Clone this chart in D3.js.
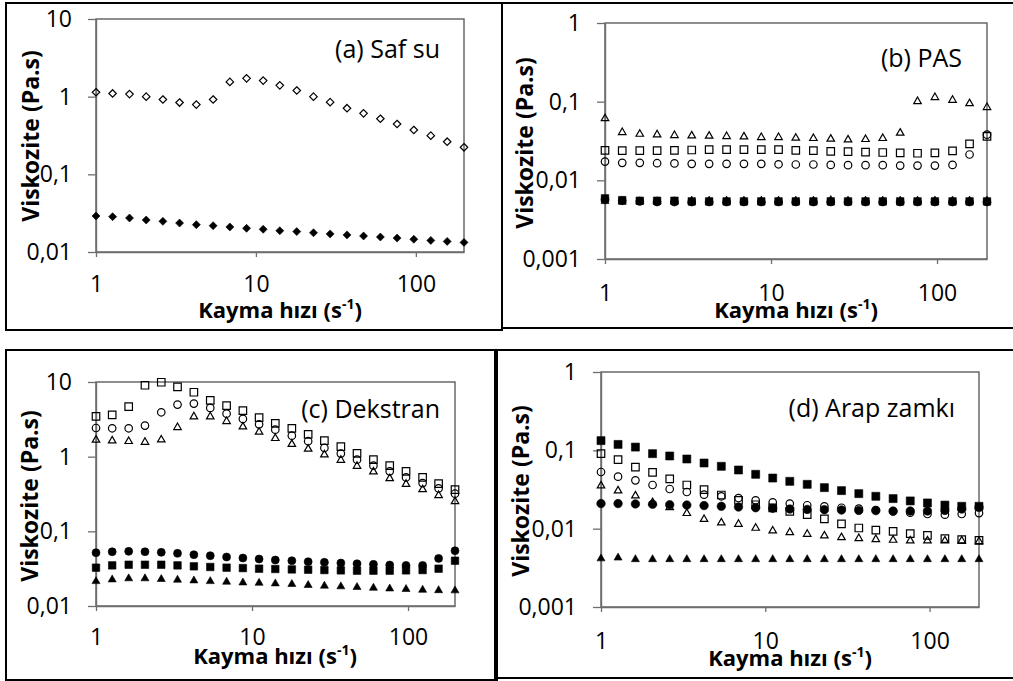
<!DOCTYPE html>
<html>
<head>
<meta charset="utf-8">
<script src="https://cdn.jsdelivr.net/npm/d3@7"></script>
<style>
  html, body { margin: 0; padding: 0; background: #fff; }
  svg { display: block; }
  text { font-family: "Open Sans", "Liberation Sans", sans-serif; fill: #000; }
</style>
</head>
<body>
<svg id="fig" width="1013" height="681"></svg>
<script>
// Shear rates (s^-1) shared by every panel
const shearRate = [1, 1.27, 1.62, 2.06, 2.62, 3.33, 4.24, 5.4, 6.87, 8.74, 11.1, 14.1, 18, 22.9, 29.1, 37.1, 47.1, 60, 76.3, 97.1, 124, 157, 200];

const xTickValues = [1, 10, 100];
const xTickLabels = ["1", "10", "100"];

const yTicksAC = [0.01, 0.1, 1, 10];
const yTickLabelsAC = ["0,01", "0,1", "1", "10"];
const yTicksBD = [0.001, 0.01, 0.1, 1];
const yTickLabelsBD = ["0,001", "0,01", "0,1", "1"];

// (a) Saf su
const safSuOpen = [1.14, 1.10, 1.08, 1.0, 0.92, 0.84, 0.79, 0.92, 1.55, 1.72, 1.61, 1.40, 1.20, 1.0, 0.85, 0.71, 0.61, 0.52, 0.445, 0.372, 0.315, 0.263, 0.223];
const safSuFilled = [0.0291, 0.0285, 0.0274, 0.0258, 0.0248, 0.0236, 0.0225, 0.0218, 0.0210, 0.0202, 0.0196, 0.0188, 0.0183, 0.0177, 0.0171, 0.0166, 0.0161, 0.0156, 0.0151, 0.0146, 0.0141, 0.0137, 0.0133];

// (b) PAS
const pasFilledSq = [0.0059, 0.0056, 0.0055, 0.0055, 0.0055, 0.0054, 0.0054, 0.0054, 0.0054, 0.0054, 0.0054, 0.0054, 0.0054, 0.0054, 0.0054, 0.0054, 0.0054, 0.0054, 0.0054, 0.0054, 0.0054, 0.0054, 0.0054];
const pasFilledCirc = [0.0057, 0.0055, 0.0054, 0.0053, 0.0053, 0.0053, 0.0053, 0.0053, 0.0053, 0.0053, 0.0053, 0.0053, 0.0053, 0.0053, 0.0053, 0.0053, 0.0053, 0.0053, 0.0053, 0.0053, 0.0053, 0.0053, 0.0053];
const pasFilledTri = [0.0056, 0.0055, 0.0056, 0.0056, 0.0056, 0.0057, 0.0057, 0.0057, 0.0057, 0.0057, 0.0057, 0.0057, 0.0057, 0.0058, 0.0057, 0.0057, 0.0057, 0.0057, 0.0057, 0.0057, 0.0057, 0.0057, 0.0057];
const pasOpenSq = [0.0241, 0.0239, 0.0239, 0.0239, 0.0241, 0.0243, 0.0246, 0.0246, 0.0246, 0.0246, 0.0246, 0.0241, 0.0239, 0.0234, 0.0232, 0.0228, 0.0226, 0.0223, 0.0221, 0.0223, 0.0237, 0.029, 0.0363];
const pasOpenCirc = [0.0173, 0.0167, 0.0167, 0.0165, 0.0164, 0.0162, 0.0162, 0.0162, 0.0162, 0.0162, 0.016, 0.0159, 0.0159, 0.0157, 0.0156, 0.0156, 0.0156, 0.0154, 0.0154, 0.0154, 0.0157, 0.0213, 0.0381];
const pasOpenTri = [0.063, 0.042, 0.040, 0.0393, 0.0385, 0.0381, 0.0378, 0.0374, 0.037, 0.0363, 0.0363, 0.0356, 0.0353, 0.0346, 0.0339, 0.0343, 0.0353, 0.0413, 0.104, 0.117, 0.108, 0.098, 0.0873];

// (c) Dekstran
const dekFilledSq = [0.0326, 0.035, 0.0357, 0.0357, 0.0357, 0.035, 0.034, 0.0333, 0.0326, 0.0322, 0.0316, 0.0313, 0.0309, 0.0306, 0.0303, 0.030, 0.0297, 0.0297, 0.0297, 0.030, 0.0303, 0.0316, 0.0404];
const dekFilledCirc = [0.0518, 0.0533, 0.0539, 0.0533, 0.0523, 0.0507, 0.0487, 0.0472, 0.0453, 0.0439, 0.0426, 0.0413, 0.0404, 0.0392, 0.0384, 0.0376, 0.0368, 0.0361, 0.0354, 0.035, 0.035, 0.0434, 0.055];
const dekFilledTri = [0.0222, 0.0234, 0.0242, 0.0242, 0.0237, 0.0232, 0.0227, 0.0222, 0.0218, 0.0213, 0.0211, 0.0207, 0.0203, 0.0197, 0.0193, 0.0189, 0.0185, 0.0181, 0.0177, 0.0174, 0.017, 0.0168, 0.0167];
const dekOpenSq = [3.47, 3.62, 4.69, 9.05, 9.93, 8.6, 7.29, 5.69, 4.83, 4.14, 3.33, 2.80, 2.40, 1.99, 1.64, 1.36, 1.11, 0.911, 0.757, 0.636, 0.528, 0.435, 0.361];
const dekOpenCirc = [2.42, 2.40, 2.40, 2.61, 3.93, 4.98, 5.14, 4.50, 3.77, 3.20, 2.71, 2.30, 1.91, 1.61, 1.31, 1.10, 0.911, 0.757, 0.636, 0.528, 0.443, 0.376, 0.319];
const dekOpenTri = [1.73, 1.69, 1.66, 1.62, 1.74, 2.55, 3.55, 3.55, 3.07, 2.60, 2.21, 1.82, 1.52, 1.31, 1.10, 0.93, 0.773, 0.649, 0.528, 0.443, 0.376, 0.313, 0.26];

// (d) Arap zamkı
const arapFilledSq = [0.133, 0.119, 0.110, 0.0907, 0.0847, 0.0775, 0.0689, 0.0625, 0.0561, 0.0494, 0.0443, 0.0402, 0.0368, 0.0334, 0.0306, 0.028, 0.0259, 0.0242, 0.0226, 0.0213, 0.020, 0.0193, 0.0193];
const arapFilledCirc = [0.0209, 0.0209, 0.0207, 0.0205, 0.0202, 0.020, 0.0197, 0.0193, 0.0189, 0.0185, 0.0182, 0.0178, 0.0176, 0.0175, 0.0173, 0.0171, 0.017, 0.0168, 0.0168, 0.0168, 0.0171, 0.0178, 0.0187];
const arapFilledTri = [0.0043, 0.0044, 0.0042, 0.0042, 0.0042, 0.0042, 0.0042, 0.0042, 0.0042, 0.0042, 0.0042, 0.0042, 0.0042, 0.0042, 0.0042, 0.0042, 0.0042, 0.0042, 0.0042, 0.0042, 0.0042, 0.0042, 0.0042];
const arapOpenSq = [0.0907, 0.076, 0.0612, 0.0524, 0.0431, 0.0361, 0.0315, 0.0269, 0.023, 0.0202, 0.0184, 0.0166, 0.0151, 0.0133, 0.0115, 0.0102, 0.0096, 0.00925, 0.00863, 0.00822, 0.00745, 0.00724, 0.0071];
const arapOpenCirc = [0.0529, 0.0461, 0.0414, 0.0361, 0.0321, 0.0294, 0.0272, 0.0259, 0.0246, 0.023, 0.0217, 0.0209, 0.0199, 0.0193, 0.0185, 0.018, 0.0173, 0.0166, 0.016, 0.0154, 0.0151, 0.0154, 0.0158];
const arapOpenTri = [0.0365, 0.0315, 0.0272, 0.0223, 0.0193, 0.0162, 0.0136, 0.0123, 0.0118, 0.0105, 0.0097, 0.00925, 0.0088, 0.00838, 0.00798, 0.00775, 0.00753, 0.00738, 0.00724, 0.00724, 0.00724, 0.00724, 0.0071];

// Marker outlines centred on (0,0)
function markerPath(shape, s) {
  const h = s / 2;
  if (shape === "square") return `M${-h},${-h}H${h}V${h}H${-h}Z`;
  if (shape === "circle") return `M${h},0A${h},${h} 0 1 1 ${-h},0A${h},${h} 0 1 1 ${h},0Z`;
  if (shape === "diamond") return `M0,${-h}L${h},0L0,${h}L${-h},0Z`;
  // triangle, centred on its bounding box
  const th = s * 0.87 / 2;
  return `M0,${-th}L${h},${th}L${-h},${th}Z`;
}

const svg = d3.select("#fig");

function drawPanel(p) {
  const g = svg.append("g");

  // outer frame of the panel
  g.append("rect")
    .attr("x", p.box[0]).attr("y", p.box[1])
    .attr("width", p.box[2] - p.box[0]).attr("height", p.box[3] - p.box[1])
    .attr("fill", "none").attr("stroke", "#000").attr("stroke-width", 2);

  const x = d3.scaleLog().domain([1, 200]).range([p.plot[0], p.plot[2]]);
  const y = d3.scaleLog().domain(p.yDomain).range([p.plot[3], p.plot[1]]);

  // plot area border
  g.append("rect")
    .attr("x", p.plot[0]).attr("y", p.plot[1])
    .attr("width", p.plot[2] - p.plot[0]).attr("height", p.plot[3] - p.plot[1])
    .attr("fill", "none").attr("stroke", "#5e5e5e").attr("stroke-width", 1.4);

  const yAxis = d3.axisLeft(y).tickValues(p.yTicks)
    .tickFormat((d, i) => p.yLabels[i]).tickSize(8).tickSizeOuter(0).tickPadding(16);
  const ya = g.append("g").attr("transform", `translate(${p.plot[0]},0)`).call(yAxis);

  const xAxis = d3.axisBottom(x).tickValues(xTickValues)
    .tickFormat((d, i) => xTickLabels[i]).tickSize(5).tickSizeOuter(0).tickPadding(p.xPad);
  const xa = g.append("g").attr("transform", `translate(0,${p.plot[3]})`).call(xAxis);

  [ya, xa].forEach(a => {
    a.select(".domain").attr("stroke", "#6e6e6e").attr("stroke-width", 1.4);
    a.selectAll(".tick line").attr("stroke", "#6e6e6e").attr("stroke-width", 1.3);
    a.selectAll(".tick text").attr("font-family", "'Open Sans', sans-serif")
      .attr("font-size", 23).attr("fill", "#000");
  });

  // data markers
  p.series.forEach(s => {
    g.append("g").selectAll("path")
      .data(s.values.map((v, i) => [shearRate[i], v]))
      .join("path")
      .attr("transform", d => `translate(${x(d[0])},${y(d[1])})`)
      .attr("d", markerPath(s.shape, s.size))
      .attr("fill", s.filled ? "#000" : "none")
      .attr("stroke", "#000")
      .attr("stroke-width", s.filled ? 0.6 : 1.2);
  });

  // panel caption
  g.append("text")
    .attr("x", p.caption[0]).attr("y", p.caption[1])
    .attr("text-anchor", "end").attr("font-size", 25)
    .text(p.label);

  // axis titles
  const xt = g.append("text")
    .attr("x", p.xTitle[0]).attr("y", p.xTitle[1])
    .attr("text-anchor", "middle").attr("font-size", 22).attr("font-weight", "bold");
  xt.append("tspan").text("Kayma hızı (s");
  xt.append("tspan").attr("font-size", 14).attr("dy", -9).text("-1");
  xt.append("tspan").attr("dy", 9).text(")");

  g.append("text")
    .attr("transform", `translate(${p.yTitle[0]},${p.yTitle[1]}) rotate(-90)`)
    .attr("text-anchor", "middle").attr("font-size", 23).attr("font-weight", "bold")
    .text("Viskozite (Pa.s)");
}

const panels = [
  {
    box: [6, 3, 502, 330], plot: [96, 19, 464, 252], yDomain: [0.01, 10],
    yTicks: yTicksAC, yLabels: yTickLabelsAC, xPad: 19,
    label: "(a) Saf su", caption: [440, 58], xTitle: [280, 318], yTitle: [39, 136],
    series: [
      { values: safSuFilled, shape: "diamond", filled: true, size: 8 },
      { values: safSuOpen, shape: "diamond", filled: false, size: 7.5 }
    ]
  },
  {
    box: [502, 3, 1016, 328], plot: [605, 23, 987, 259], yDomain: [0.001, 1],
    yTicks: yTicksBD, yLabels: yTickLabelsBD, xPad: 21,
    label: "(b) PAS", caption: [962, 67], xTitle: [796, 318], yTitle: [533, 143],
    series: [
      { values: pasFilledSq, shape: "square", filled: true, size: 7.5 },
      { values: pasFilledCirc, shape: "circle", filled: true, size: 8 },
      { values: pasFilledTri, shape: "triangle", filled: true, size: 8 },
      { values: pasOpenSq, shape: "square", filled: false, size: 7.5 },
      { values: pasOpenCirc, shape: "circle", filled: false, size: 7.5 },
      { values: pasOpenTri, shape: "triangle", filled: false, size: 7.5 }
    ]
  },
  {
    box: [6, 350, 497, 680], plot: [96, 382, 455, 606], yDomain: [0.01, 10],
    yTicks: yTicksAC, yLabels: yTickLabelsAC, xPad: 18,
    label: "(c) Dekstran", caption: [440, 418], xTitle: [275, 664], yTitle: [38, 496],
    series: [
      { values: dekFilledSq, shape: "square", filled: true, size: 7.5 },
      { values: dekFilledCirc, shape: "circle", filled: true, size: 8 },
      { values: dekFilledTri, shape: "triangle", filled: true, size: 8 },
      { values: dekOpenSq, shape: "square", filled: false, size: 7.5 },
      { values: dekOpenCirc, shape: "circle", filled: false, size: 7.5 },
      { values: dekOpenTri, shape: "triangle", filled: false, size: 7.5 }
    ]
  },
  {
    box: [495, 350, 1016, 678], plot: [601, 372, 979, 607], yDomain: [0.001, 1],
    yTicks: yTicksBD, yLabels: yTickLabelsBD, xPad: 21,
    label: "(d) Arap zamkı", caption: [955, 417], xTitle: [790, 666], yTitle: [529, 491],
    series: [
      { values: arapFilledSq, shape: "square", filled: true, size: 8 },
      { values: arapFilledCirc, shape: "circle", filled: true, size: 8.5 },
      { values: arapFilledTri, shape: "triangle", filled: true, size: 8 },
      { values: arapOpenSq, shape: "square", filled: false, size: 7.5 },
      { values: arapOpenCirc, shape: "circle", filled: false, size: 7.5 },
      { values: arapOpenTri, shape: "triangle", filled: false, size: 7.5 }
    ]
  }
];

panels.forEach(drawPanel);
</script>
</body>
</html>
